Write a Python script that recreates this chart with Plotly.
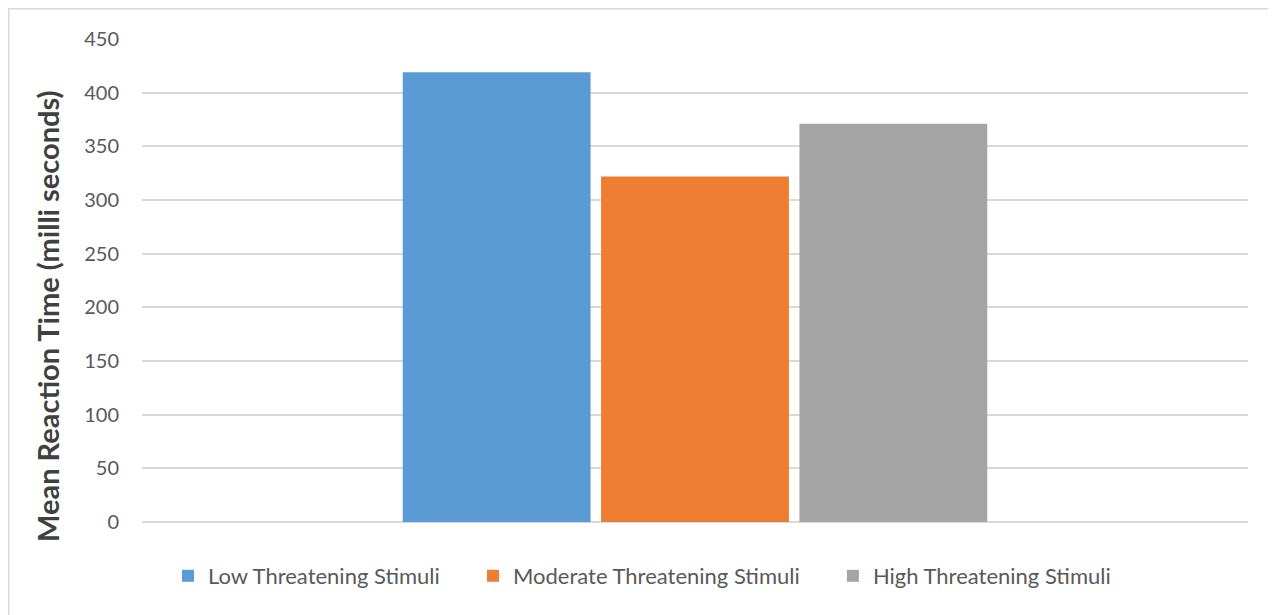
import plotly.graph_objects as go

categories = [""]
series_names = ["Low Threatening Stimuli", "Moderate Threatening Stimuli", "High Threatening Stimuli"]
series_values = [[419], [322], [371]]
colors = ["#5b9bd5", "#ed7d31", "#a5a5a5"]
y_ticks = [0, 50, 100, 150, 200, 250, 300, 350, 400, 450]
y_title = "Mean Reaction Time (milli seconds)"

OFF = 8  # default page body margin
W, H = 1276 - OFF, 615 - OFF
ml, mr, mt, mb = 142 - OFF, 28, 39 - OFF, 93
pw, ph = W - ml - mr, H - mt - mb

def px(xpage):
    return (xpage - OFF - ml) / pw
def py(ypage):
    return (H - mb - (ypage - OFF)) / ph

fig = go.Figure()
pad = ["\u00a0" * 5, "\u00a0" * 5, ""]
for name, vals, c, p in zip(series_names, series_values, colors, pad):
    fig.add_trace(go.Bar(x=categories, y=vals, name=name + p, marker=dict(color=c, line=dict(width=0))))

fig.update_layout(
    width=W, height=H,
    margin=dict(l=ml, r=mr, t=mt, b=mb),
    paper_bgcolor="white", plot_bgcolor="white",
    barmode="group", bargap=0.462, bargroupgap=0.053,
    font=dict(family="Lato, Open Sans, sans-serif", color="#595959"),
    showlegend=True,
    legend=dict(orientation="h", x=px(642), xanchor="center", y=py(576), yanchor="middle",
                font=dict(size=22, color="#595959"), itemwidth=30, traceorder="normal"),
    xaxis=dict(showticklabels=False, showgrid=False, zeroline=False, showline=False, ticks=""),
    yaxis=dict(range=[0, 450], tickvals=y_ticks, showgrid=True, gridcolor="#d9d9d9", gridwidth=1.5,
               zeroline=True, zerolinecolor="#d9d9d9", zerolinewidth=1.5, showline=False,
               tickfont=dict(size=20, color="#595959"), ticklabelstandoff=22),
    annotations=[dict(text=y_title, textangle=-90, xref="paper", yref="paper",
                      x=px(47), y=py(316), xanchor="center", yanchor="middle", showarrow=False,
                      font=dict(size=29, color="#404040", family="Lato, Open Sans, sans-serif", weight="bold"))],
    shapes=[dict(type="rect", xref="paper", yref="paper", x0=px(8.5), x1=px(1272), y0=py(630), y1=py(8.5),
                 line=dict(color="#d9d9d9", width=2), fillcolor="rgba(0,0,0,0)", layer="below")],
)

fig.write_html("out.html")
